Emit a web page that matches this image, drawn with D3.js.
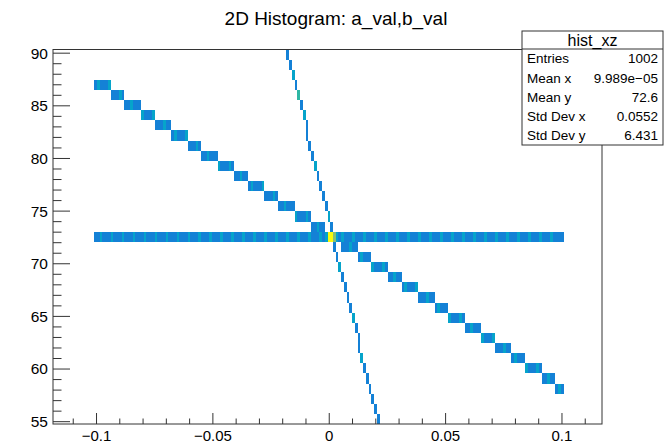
<!DOCTYPE html>
<html>
<head>
<meta charset="utf-8">
<script src="https://cdn.jsdelivr.net/npm/d3@7"></script>
<style>
body { margin: 0; background: #fff; }
text { font-family: "Liberation Sans", Arial, sans-serif; fill: #000; }
</style>
</head>
<body>
<div id="chart"></div>
<script>
// histogram binning (hist_xz)
const xRange = [-0.1187, 0.1172]
const yRange = [54.78, 90.35]
const nBinsX = 200
const nBinsY = 37

// horizontal line: y bin, first x bin, counts per bin
const bandRow = 18
const bandStart = 15
const bandCounts = [
    "2232223222", "3222322232", "2232223222", "3222322232", "2232223222", "3222322232",
    "2232223222", "3222322232", "2232232222", "3222322232", "2232223222", "3222322232",
    "2232223222", "3222322232", "2232223222", "3222322232", "2232223222", "2"
].join('')

// diagonal staircase: y bin of each step, first x bin of each step, counts per bin
const diagRows = [33, 32, 31, 30, 29, 28, 27, 26, 25, 24, 23, 22, 21, 20, 19, 18, 17, 16, 15, 14, 13, 12, 11, 10, 9, 8, 7, 6, 5, 4, 3]
const diagStarts = [15, 21, 26, 32, 37, 43, 49, 54, 60, 66, 71, 77, 82, 88, 94, 99, 105, 111, 116, 122, 127, 133, 139, 144, 150, 156, 161, 167, 172, 178, 183]
const diagCounts = [
    "2322232223", "2223222322", "2322232223", "2223222322", "2322232223", "2223222322",
    "2322232223", "2223222322", "2322133310", "2223222322", "2322232223", "2223222322",
    "2322232223", "2223222322", "2322232223", "2223222322", "2322232223", "2"
].join('')

// steep line: [x bin, y bin, count]
const steepCells = [
    [85, 36, 2], [86, 35, 2], [87, 34, 3], [88, 33, 2], [89, 32, 4], [90, 31, 2], [91, 30, 3],
    [92, 29, 2], [92, 28, 2], [93, 27, 2], [94, 26, 2], [95, 25, 3], [96, 24, 2], [97, 23, 2],
    [98, 22, 2], [99, 21, 2], [100, 20, 3], [101, 19, 2], [100, 18, 2], [101, 18, 3], [102, 17, 2],
    [103, 16, 2], [104, 15, 3], [105, 14, 2], [106, 13, 2], [107, 12, 2], [108, 11, 2], [109, 10, 3],
    [110, 9, 2], [111, 8, 2], [111, 7, 2], [112, 6, 3], [113, 5, 2], [114, 4, 2], [115, 3, 2],
    [116, 2, 2], [117, 1, 2], [118, 0, 2]
]

const xTickValues = [-0.1, -0.05, 0, 0.05, 0.1]
const xTickLabels = ["\u22120.1", "\u22120.05", "0", "0.05", "0.1"]
const yTickValues = [55, 60, 65, 70, 75, 80, 85, 90]
const statsLabels = ["Entries", "Mean x", "Mean y", "Std Dev x", "Std Dev y"]
const statsValues = ["1002", "9.989e\u221205", "72.6", "0.0552", "6.431"]

// ROOT kBird palette
const birdStops = [0, 0.125, 0.25, 0.375, 0.5, 0.625, 0.75, 0.875, 1]
const birdR = [0.2082, 0.0592, 0.0780, 0.0232, 0.1802, 0.5301, 0.8186, 0.9956, 0.9764]
const birdG = [0.1664, 0.3599, 0.5041, 0.6419, 0.7178, 0.7492, 0.7328, 0.7862, 0.9832]
const birdB = [0.5293, 0.8684, 0.8385, 0.7914, 0.6425, 0.4662, 0.3499, 0.1968, 0.0539]

const W = 669, H = 444
const frame = { left: 53, right: 602, top: 49.5, bottom: 424 }

const svg = d3.select('#chart').append('svg')
    .attr('width', W)
    .attr('height', H)

svg.append('rect').attr('width', W).attr('height', H).attr('fill', '#fff')

const x = d3.scaleLinear().domain(xRange).range([frame.left, frame.right])
const y = d3.scaleLinear().domain(yRange).range([frame.bottom, frame.top])

const bw = (xRange[1] - xRange[0]) / nBinsX
const bh = (yRange[1] - yRange[0]) / nBinsY

// fill the histogram
const cells = new Map()
const fill = (i, j, c) => {
    const key = i + ',' + j
    cells.set(key, (cells.get(key) || 0) + c)
}
bandCounts.split('').forEach((c, k) => fill(bandStart + k, bandRow, +c))
const lastBin = bandStart + bandCounts.length
diagRows.forEach((row, s) => {
    const end = s + 1 < diagStarts.length ? diagStarts[s + 1] : lastBin
    for (let i = diagStarts[s]; i < end; i++) {
        fill(i, row, +diagCounts[i - diagStarts[0]])
    }
})
steepCells.forEach(([i, j, c]) => fill(i, j, c))

const data = Array.from(cells, ([key, c]) => {
    const [i, j] = key.split(',').map(Number)
    return { i, j, c }
}).filter(d => d.c > 0)
const maxCount = d3.max(data, d => d.c)

const color = d3.scaleLinear()
    .domain(birdStops)
    .range(birdStops.map((s, n) => d3.rgb(birdR[n] * 255, birdG[n] * 255, birdB[n] * 255)))

const cellGroup = svg.append('g')
cellGroup.selectAll('rect').data(data)
    .enter()
        .append('rect')
            .attr('x', d => x(xRange[0] + d.i * bw))
            .attr('y', d => y(yRange[0] + (d.j + 1) * bh))
            .attr('width', d => x(xRange[0] + (d.i + 1) * bw) - x(xRange[0] + d.i * bw))
            .attr('height', d => y(yRange[0] + d.j * bh) - y(yRange[0] + (d.j + 1) * bh))
            .attr('fill', d => color(d.c / maxCount))
            .attr('shape-rendering', 'crispEdges')

// frame
svg.append('rect')
    .attr('x', frame.left)
    .attr('y', frame.top)
    .attr('width', frame.right - frame.left)
    .attr('height', frame.bottom - frame.top)
    .attr('fill', 'none')
    .attr('stroke', '#333')
    .attr('stroke-width', 1)

// x axis
const xAxis = svg.append('g').attr('transform', `translate(0, ${frame.bottom})`)
xAxis.selectAll('line').data(d3.range(-11, 12).map(v => v / 100))
    .enter().append('line')
        .attr('x1', d => x(d)).attr('x2', d => x(d))
        .attr('y1', 0).attr('y2', d => xTickValues.some(t => Math.abs(t - d) < 1e-9) ? -11 : -5.5)
        .attr('stroke', '#333')
xAxis.selectAll('text').data(xTickValues)
    .enter().append('text')
        .attr('x', d => x(d))
        .attr('y', 16.5)
        .attr('text-anchor', 'middle')
        .attr('font-size', 15)
        .text((d, n) => xTickLabels[n])

// y axis
const yAxis = svg.append('g').attr('transform', `translate(${frame.left}, 0)`)
yAxis.selectAll('line').data(d3.range(55, 91))
    .enter().append('line')
        .attr('y1', d => y(d)).attr('y2', d => y(d))
        .attr('x1', 0).attr('x2', d => d % 5 === 0 ? 17 : 8.5)
        .attr('stroke', '#333')
yAxis.selectAll('text').data(yTickValues)
    .enter().append('text')
        .attr('x', -5)
        .attr('y', d => y(d))
        .attr('dy', '0.35em')
        .attr('text-anchor', 'end')
        .attr('font-size', 15.5)
        .text(d => d)

// title
svg.append('text')
    .attr('x', 336)
    .attr('y', 25)
    .attr('text-anchor', 'middle')
    .attr('font-size', 19)
    .text('2D Histogram: a_val,b_val')

// stats box
const box = { left: 522, right: 663, top: 31, head: 49, bottom: 145 }
const stats = svg.append('g')
stats.append('rect')
    .attr('x', box.left).attr('y', box.top)
    .attr('width', box.right - box.left).attr('height', box.bottom - box.top)
    .attr('fill', '#fff').attr('stroke', '#333')
stats.append('line')
    .attr('x1', box.left).attr('x2', box.right)
    .attr('y1', box.head).attr('y2', box.head)
    .attr('stroke', '#333')
stats.append('text')
    .attr('x', (box.left + box.right) / 2)
    .attr('y', (box.top + box.head) / 2)
    .attr('dy', '0.35em')
    .attr('text-anchor', 'middle')
    .attr('font-size', 16)
    .text('hist_xz')
const rowH = (box.bottom - box.head) / statsLabels.length
statsLabels.forEach((label, n) => {
    const cy = box.head + rowH * (n + 0.5)
    stats.append('text')
        .attr('x', box.left + 5).attr('y', cy).attr('dy', '0.35em')
        .attr('font-size', 13.5)
        .text(label)
    stats.append('text')
        .attr('x', box.right - 5).attr('y', cy).attr('dy', '0.35em')
        .attr('text-anchor', 'end')
        .attr('font-size', 13.5)
        .text(statsValues[n])
})
</script>
</body>
</html>
